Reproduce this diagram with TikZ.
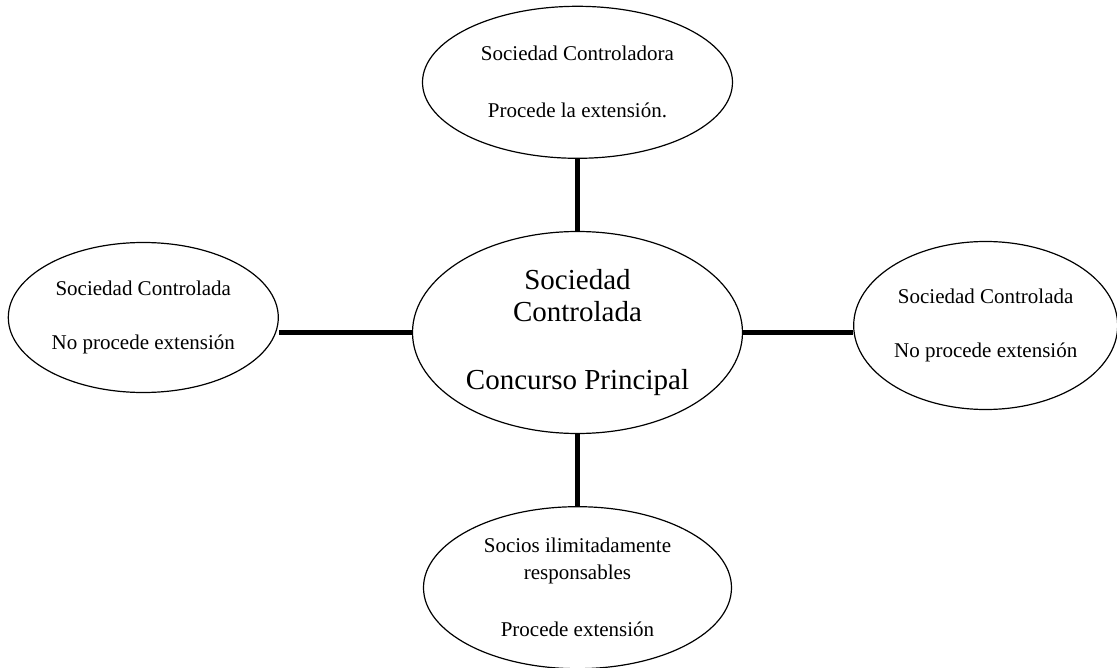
\documentclass[tikz,border=0pt]{standalone}
\usepackage{fontspec}
\setmainfont{Liberation Serif}
\usetikzlibrary{matrix,shapes.geometric}

\begin{document}
\begin{tikzpicture}[x=1pt,y=1pt]
			\useasboundingbox (0,0) rectangle (1117,667);
			\matrix (m) [row sep=72pt,column sep=133pt,ampersand replacement=\&,
			  nodes={draw,ellipse,line width=1.2pt,inner sep=0pt,align=center,anchor=center,font=\fontsize{21}{27}\selectfont}] at (563,329.5)
			{
			    \& \node[minimum width=310pt,minimum height=152pt] (ctrl) {Sociedad Controladora\\[30pt]Procede la extensión.}; \&[-23pt]
			    \\
				\node[minimum width=270pt,minimum height=150pt,yshift=15pt] (izq) {Sociedad Controlada\\[27pt]No procede extensión}; \&
				\node[minimum width=330pt,minimum height=202pt,font=\fontsize{29}{32}\selectfont] (main) {Sociedad\\Controlada\\[36pt]Concurso Principal}; \&[-23pt]
				\node[minimum width=264pt,minimum height=168pt,yshift=7pt] (der) {Sociedad Controlada\\[27pt]No procede extensión}; \\
				\& \node[minimum width=308pt,minimum height=162pt] (socios) {Socios ilimitadamente\\responsables\\[30pt]Procede extensión}; \&[-23pt] \\};
			\path[line width=5pt]
			(ctrl) edge (main)
			(main) edge (socios)
			(main.west) edge (main.west -| izq.east)
			(main.east) edge (main.east -| der.west);
		\end{tikzpicture}
\end{document}
